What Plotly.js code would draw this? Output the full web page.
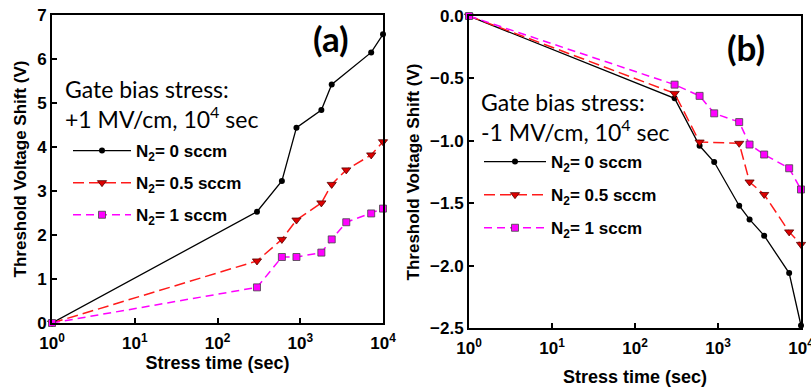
<!DOCTYPE html>
<html>
<head>
<meta charset="utf-8">
<script src="https://cdn.plot.ly/plotly-3.0.1.min.js"></script>
<style>html,body{margin:0;padding:0;background:#fff;}#chart{width:811px;height:392px;}</style>
</head>
<body>
<div id="chart"></div>
<script>
// ---- data: panel (a) +1 MV/cm ----
const tA_N0 = [1, 300, 600, 900, 1800, 2400, 7200, 10000];
const vA_N0 = [0, 2.53, 3.23, 4.44, 4.84, 5.42, 6.15, 6.56];
const tA_N05 = [1, 300, 600, 900, 1800, 2400, 3600, 7200, 10000];
const vA_N05 = [0, 1.41, 1.90, 2.34, 2.73, 3.15, 3.48, 3.82, 4.12];
const tA_N1 = [1, 300, 600, 900, 1800, 2400, 3600, 7200, 10000];
const vA_N1 = [0, 0.81, 1.50, 1.50, 1.60, 1.90, 2.29, 2.49, 2.60];
// ---- data: panel (b) -1 MV/cm ----
const tB_N0 = [1, 300, 600, 900, 1800, 2400, 3600, 7200, 10000];
const vB_N0 = [0, -0.66, -1.04, -1.17, -1.52, -1.63, -1.76, -2.06, -2.48];
const tB_N05 = [1, 300, 600, 1800, 2400, 3600, 7200, 10000];
const vB_N05 = [0, -0.62, -1.01, -1.02, -1.33, -1.43, -1.73, -1.83];
const tB_N1 = [1, 300, 600, 900, 1800, 2400, 3600, 7200, 10000];
const vB_N1 = [0, -0.55, -0.64, -0.78, -0.85, -1.03, -1.11, -1.22, -1.39];

const xTickVals = [1, 10, 100, 1000, 10000];
const xTickText = ['10<sup>0</sup>', '10<sup>1</sup>', '10<sup>2</sup>', '10<sup>3</sup>', '10<sup>4</sup>'];
const seriesNames = ['N<sub>2</sub>= 0 sccm', 'N<sub>2</sub>= 0.5 sccm', 'N<sub>2</sub>= 1 sccm'];
const panelLabels = ['(a)', '(b)'];
const stressLabels = ['Gate bias stress:<br>+1 MV/cm, 10<sup>4</sup> sec', 'Gate bias stress:<br>-1 MV/cm, 10<sup>4</sup> sec'];

const styles = [
  {line: {color: '#000000', width: 1.3, dash: 'solid'}, marker: {symbol: 'circle', size: 6, color: '#000000'}},
  {line: {color: '#ff1a1a', width: 1.5, dash: '11px,5px'}, marker: {symbol: 'triangle-down', size: 8, color: '#dd0000', line: {color: '#550000', width: 0.8}}},
  {line: {color: '#ff00ff', width: 1.5, dash: '8px,5px'}, marker: {symbol: 'square', size: 7, color: '#ff00ff', line: {color: '#444444', width: 0.8}}}
];

function mk(x, y, i, panel) {
  const s = styles[i];
  return {
    x: x, y: y, type: 'scatter', mode: 'lines+markers',
    name: seriesNames[i],
    xaxis: panel === 0 ? 'x' : 'x2', yaxis: panel === 0 ? 'y' : 'y2',
    legend: panel === 0 ? 'legend' : 'legend2',
    legendgroup: 'g' + panel + i,
    line: s.line, marker: s.marker, cliponaxis: false
  };
}

const data = [
  mk(tA_N0, vA_N0, 0, 0), mk(tA_N05, vA_N05, 1, 0), mk(tA_N1, vA_N1, 2, 0),
  mk(tB_N0, vB_N0, 0, 1), mk(tB_N05, vB_N05, 1, 1), mk(tB_N1, vB_N1, 2, 1)
];

const tickFont = {family: 'Liberation Sans, Arial, sans-serif', size: 17, color: '#000', weight: 'bold'};
const titleFont = {family: 'Liberation Sans, Arial, sans-serif', size: 18, color: '#000', weight: 'bold'};

function xax(domain, anchor, standoff) {
  return {
    type: 'log', range: [0, 4], domain: domain, anchor: anchor,
    tickvals: xTickVals, ticktext: xTickText, ticks: 'inside', ticklen: 5, tickwidth: 2, tickcolor: '#000',
    showline: true, linewidth: 2, linecolor: '#000', mirror: true, showgrid: false, zeroline: false,
    tickfont: tickFont, ticklabelstandoff: 4, ticklabeloverflow: 'allow',
    title: {text: 'Stress time (sec)', font: titleFont, standoff: standoff}
  };
}
function yax(domain, anchor, range, dtick, fmt) {
  return {
    range: range, domain: domain, anchor: anchor, dtick: dtick, tickformat: fmt,
    ticks: 'inside', ticklen: 5, tickwidth: 2, tickcolor: '#000',
    showline: true, linewidth: 2, linecolor: '#000', mirror: true, showgrid: false, zeroline: false,
    tickfont: tickFont, ticklabeloverflow: 'allow',
    title: {text: 'Threshold Voltage Shift (V)', font: {family: 'Liberation Sans, Arial, sans-serif', size: 17, color: '#000', weight: 'bold'}, standoff: 6}
  };
}

const legendFont = {family: 'Liberation Sans, Arial, sans-serif', size: 17, color: '#000', weight: 'bold'};
const annFont = {family: 'Lato, Open Sans, sans-serif', size: 23, color: '#000'};
const labFont = {family: 'Lato, Open Sans, sans-serif', size: 35, color: '#000', weight: 'bold'};

const layout = {
  width: 811, height: 392,
  margin: {l: 0, r: 0, t: 0, b: 0},
  paper_bgcolor: '#fff', plot_bgcolor: '#fff',
  showlegend: true,
  xaxis: xax([52/811, 383/811], 'y', 3),
  yaxis: yax([1 - 323/392, 1 - 15/392], 'x', [0, 7], 1, 'd'),
  xaxis2: xax([469/811, 801/811], 'y2', 13),
  yaxis2: yax([1 - 328/392, 1 - 16/392], 'x2', [-2.5, 0], 0.5, '.1f'),
  legend: {x: 68/811, y: 1 - 133/392, xanchor: 'left', yanchor: 'top', bgcolor: 'rgba(0,0,0,0)',
           font: legendFont, itemwidth: 58, tracegroupgap: 7, traceorder: 'grouped'},
  legend2: {x: 479/811, y: 1 - 144/392, xanchor: 'left', yanchor: 'top', bgcolor: 'rgba(0,0,0,0)',
           font: legendFont, itemwidth: 62, tracegroupgap: 8, traceorder: 'grouped'},
  annotations: [
    {xref: 'paper', yref: 'paper', x: 63/811, y: 1 - 104/392, xanchor: 'left', yanchor: 'middle', align: 'left',
     text: stressLabels[0], showarrow: false, font: annFont},
    {xref: 'paper', yref: 'paper', x: 479/811, y: 1 - 117/392, xanchor: 'left', yanchor: 'middle', align: 'left',
     text: stressLabels[1], showarrow: false, font: annFont},
    {xref: 'paper', yref: 'paper', x: 331/811, y: 1 - 38/392, xanchor: 'center', yanchor: 'middle',
     text: panelLabels[0], showarrow: false, font: labFont},
    {xref: 'paper', yref: 'paper', x: 746/811, y: 1 - 47/392, xanchor: 'center', yanchor: 'middle',
     text: panelLabels[1], showarrow: false, font: labFont}
  ]
};

Plotly.newPlot('chart', data, layout, {displayModeBar: false, staticPlot: true});
</script>
</body>
</html>
